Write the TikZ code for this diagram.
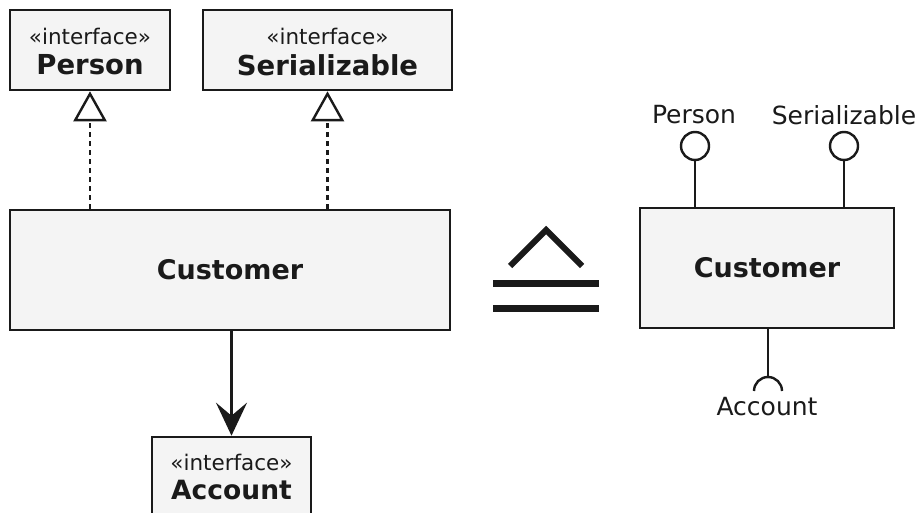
\documentclass[tikz,border=0pt]{standalone}
\usepackage{fontspec}
\setmainfont{DejaVu Sans}
\usetikzlibrary{arrows.meta}
\definecolor{ink}{HTML}{1A1A1A}
\definecolor{boxfill}{HTML}{F4F4F4}
\begin{document}
\begin{tikzpicture}[x=1pt,y=-1pt,
  umlbox/.style={draw=ink, line width=2.6pt, fill=boxfill, inner sep=0pt},
  stereo/.style={font=\fontsize{21.5}{25}\selectfont, text=ink, inner sep=0pt},
  bname/.style={font=\fontsize{27.5}{31}\selectfont\bfseries, text=ink, inner sep=0pt},
  plain/.style={font=\fontsize{25}{29}\selectfont, text=ink, inner sep=0pt},
  realize/.style={draw=ink, line width=2.4pt, dash pattern=on 5pt off 4pt,
    -{Triangle[open, length=30pt, width=33pt, line width=2.4pt]}},
  assoc/.style={draw=ink, line width=2.4pt, -{Stealth[length=33pt, width=31pt, inset=13pt]}},
  lollipop/.style={draw=ink, line width=2.4pt, fill=white, circle, minimum size=28pt, inner sep=0pt},
  stem/.style={draw=ink, line width=2.4pt}
]
\useasboundingbox (0,0) rectangle (920,513);
\clip (0,0) rectangle (920,513);
\fill[white] (0,0) rectangle (920,513);

% left diagram
\node[umlbox, minimum width=160pt, minimum height=80pt] (person) at (90,50) {};
\node[stereo] (personst) at (90,36) {«interface»};
\node[bname] (personnm) at (90,65) {Person};

\node[umlbox, minimum width=249pt, minimum height=80pt] (ser) at (327.5,50) {};
\node[stereo] (serst) at (327.5,36) {«interface»};
\node[bname] (sernm) at (327.5,65) {Serializable};

\node[umlbox, minimum width=440pt, minimum height=120pt] (cust) at (230,270) {};
\node[bname, font=\fontsize{27}{31}\selectfont\bfseries] (custnm) at (230,270) {Customer};

\node[umlbox, minimum width=159pt, minimum height=80pt] (acc) at (231.5,477) {};
\node[stereo] (accst) at (231.5,462) {«interface»};
\node[bname, font=\fontsize{26.5}{30}\selectfont\bfseries] (accnm) at (231.5,490) {Account};

\draw[realize] (person.south |- cust.north) -- (person.south);
\draw[realize] (ser.south |- cust.north) -- (ser.south);
\draw[assoc] (acc.north |- cust.south) -- (acc.north);

% equivalence symbol
\draw[ink, line width=6pt, line join=miter] (510,266) -- (546,230) -- (582,266);
\draw[ink, line width=7pt] (493,283) -- (599,283);
\draw[ink, line width=7pt] (493,308) -- (599,308);

% right diagram
\node[umlbox, minimum width=254pt, minimum height=120pt] (cust2) at (767,268) {};
\node[bname, font=\fontsize{27}{31}\selectfont\bfseries] (cust2nm) at (767,268) {Customer};

\node[lollipop] (ipers) at (695,146) {};
\node[lollipop] (iser) at (844,146) {};
\node[plain] (ipersl) at (694,115) {Person};
\node[plain] (iserl) at (844,115) {Serializable};
\draw[stem] (ipers.south) -- (ipers.south |- cust2.north);
\draw[stem] (iser.south) -- (iser.south |- cust2.north);

\coordinate (sock) at (768,391);
\draw[stem] (cust2.south -| sock) -- ([yshift=14pt]sock);
\draw[stem] ([xshift=-14pt]sock) arc[start angle=180, end angle=0, radius=14pt];
\node[plain] (iaccl) at (767,407) {Account};
\end{tikzpicture}
\end{document}
